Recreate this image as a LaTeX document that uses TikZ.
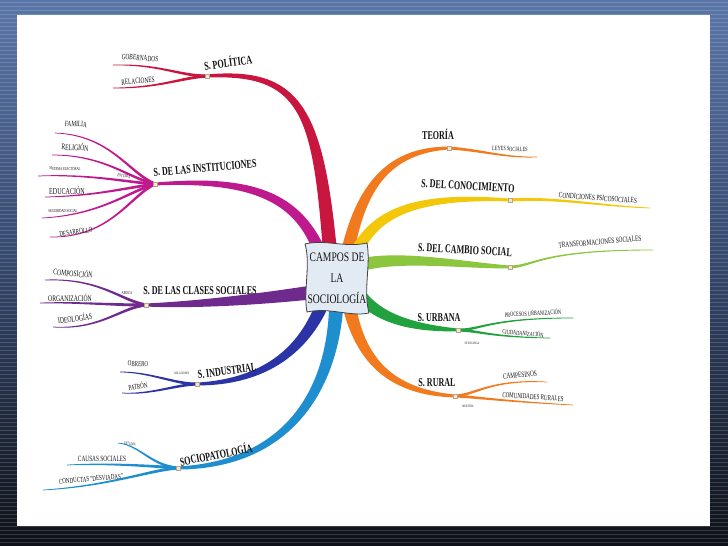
\documentclass[tikz,border=0pt]{standalone}
\usepackage{fontspec}
\setmainfont{Liberation Serif}
\newfontfamily\cond[FakeStretch=0.67]{Liberation Serif}
\newfontfamily\condc[FakeStretch=0.74]{Liberation Serif}
\usetikzlibrary{calc}
\definecolor{cRed}{HTML}{C8163F}
\definecolor{cMag}{HTML}{BE1A8E}
\definecolor{cPur}{HTML}{6E2A8C}
\definecolor{cBlu}{HTML}{2A34A6}
\definecolor{cSky}{HTML}{1F8ECF}
\definecolor{cOra}{HTML}{F27A1E}
\definecolor{cYel}{HTML}{F4C80A}
\definecolor{cLim}{HTML}{8CC63E}
\definecolor{cGrn}{HTML}{22A23F}
\definecolor{frameblue}{HTML}{5A76A8}
\definecolor{framemid}{HTML}{34466A}
\definecolor{frameblack}{HTML}{0E1117}
\definecolor{ink}{HTML}{141414}
\definecolor{paper}{HTML}{E2EAF3}
\definecolor{jfill}{HTML}{F3E7D2}
\definecolor{jdraw}{HTML}{B8A488}
% tapered branch: color, P0, P1, P2, P3, width
\newcommand\taper[6]{%
 \fill[#1] ($(#2)!#6*0.5pt!90:(#3)$)
   .. controls ($(#3)!#6*0.42pt!90:(#4)$) and ($(#4)!#6*0.28pt!90:(#5)$)
   .. ($(#5)!#6*0.11pt!-90:(#4)$)
   -- ($(#5)!#6*0.11pt!90:(#4)$)
   .. controls ($(#4)!#6*0.28pt!-90:(#5)$) and ($(#3)!#6*0.42pt!-90:(#4)$)
   .. ($(#2)!#6*0.5pt!-90:(#3)$) -- cycle;}
\tikzset{
 lab/.style={font=\cond\bfseries\fontsize{12}{12}\selectfont, text=ink, inner sep=0pt},
 sub/.style={font=\cond\fontsize{#1}{#1}\selectfont, text=ink, inner sep=0pt},
 jmark/.style={minimum size=4pt, inner sep=0pt, fill=jfill, draw=jdraw, line width=0.3pt},
}
\begin{document}
\begin{tikzpicture}[x=1pt,y=-1pt]
\useasboundingbox (0,0) rectangle (728,546);
% frame
\fill[top color=frameblue, bottom color=frameblack, middle color=framemid] (0,0) rectangle (728,546);
\foreach \yy in {2,6,...,546} \draw[white, opacity=0.16, line width=0.8pt] (0,\yy) -- (728,\yy);
\fill[white] (17,15) rectangle (710,526);

% junction coordinates
\coordinate (jPol) at (207,76);
\coordinate (jInst) at (155,184);
\coordinate (jCls) at (146,305);
\coordinate (jInd) at (197,384);
\coordinate (jSoc) at (178,468);
\coordinate (jTeo) at (449,148);
\coordinate (jCon) at (510,200);
\coordinate (jCam) at (510,267);
\coordinate (jUrb) at (458,330);
\coordinate (jRur) at (455,396);

% thick main branches
\taper{cRed}{330,252}{318,110}{300,70}{jPol}{14}
\taper{cMag}{322,258}{300,195}{250,178}{jInst}{13}
\taper{cPur}{315,292}{270,298}{200,305}{jCls}{14}
\taper{cBlu}{322,305}{305,345}{270,382}{jInd}{13}
\taper{cSky}{336,310}{330,400}{280,465}{jSoc}{14}
\taper{cOra}{348,250}{362,185}{390,150}{jTeo}{13}
\taper{cYel}{355,255}{375,210}{420,195}{jCon}{13}
\taper{cLim}{360,265}{400,255}{460,265}{jCam}{13}
\taper{cGrn}{362,298}{385,322}{420,328}{jUrb}{13}
\taper{cOra}{350,310}{362,360}{390,392}{jRur}{13}

% sub branches left
\taper{cRed}{jPol}{180,76}{160,64}{113,65}{3.2}
\taper{cRed}{jPol}{180,78}{160,88}{113,88}{3.2}
\taper{cMag}{jInst}{128,172}{110,135}{55,133}{3}
\taper{cMag}{jInst}{128,178}{105,155}{52,155}{3}
\taper{cMag}{jInst}{125,182}{90,174}{38,176}{3}
\taper{cMag}{jInst}{125,188}{95,196}{45,197}{3}
\taper{cMag}{jInst}{128,192}{100,215}{42,218}{3}
\taper{cMag}{jInst}{130,196}{110,238}{50,237}{3}
\taper{cPur}{jCls}{120,300}{100,278}{45,280}{3.2}
\taper{cPur}{jCls}{110,305}{80,302}{40,303}{3.2}
\taper{cPur}{jCls}{120,308}{100,330}{53,327}{3.2}
\taper{cBlu}{jInd}{175,384}{150,372}{120,372}{3}
\taper{cBlu}{jInd}{175,385}{150,395}{122,393}{3}
\taper{cSky}{jSoc}{150,465}{140,445}{118,443}{3}
\taper{cSky}{jSoc}{150,466}{110,463}{67,465}{3.2}
\taper{cSky}{jSoc}{150,470}{110,486}{43,490}{3.2}
% sub branches right
\taper{cOra}{jTeo}{480,150}{505,158}{537,157}{3}
\taper{cYel}{jCon}{555,197}{600,206}{650,208}{3.2}
\taper{cLim}{jCam}{535,266}{540,250}{653,250}{3.2}
\taper{cGrn}{jUrb}{480,330}{490,318}{573,318}{3}
\taper{cGrn}{jUrb}{480,331}{490,337}{550,338}{3}
\taper{cOra}{jRur}{475,395}{490,379}{547,382}{3}
\taper{cOra}{jRur}{475,397}{500,401}{573,405}{3}

% central card
\draw[fill=paper, draw=black!75, line width=0.8pt]
 (305,244) .. controls (325,239) and (345,248) .. (367,243)
 .. controls (371,265) and (363,290) .. (369,313)
 .. controls (350,317) and (330,307) .. (307,312)
 .. controls (303,290) and (311,265) .. (305,244) -- cycle;
\node[font=\condc\fontsize{13}{21}\selectfont, text=ink, align=center, inner sep=0pt] (center) at (337,278) {CAMPOS DE\\LA\\SOCIOLOGÍA};

% junction markers
\foreach \j in {jPol,jInst,jCls,jInd,jSoc,jTeo,jCon,jCam,jUrb,jRur}
  \node[jmark] (m\j) at (\j) {};

% main labels
\node[lab, rotate=8] (lPol) at (228,62) {S. POLÍTICA};
\node[lab, rotate=5] (lInst) at (205,168) {S. DE LAS INSTITUCIONES};
\node[lab] (lCls) at (200,291) {S. DE LAS CLASES SOCIALES};
\node[lab, rotate=8] (lInd) at (227,371) {S. INDUSTRIAL};
\node[lab, rotate=11] (lSoc) at (216,454) {SOCIOPATOLOGÍA};
\node[lab] (lTeo) at (438,134) {TEORÍA};
\node[lab, rotate=-3] (lCon) at (468,186) {S. DEL CONOCIMIENTO};
\node[lab, rotate=-3] (lCam) at (465,250) {S. DEL CAMBIO SOCIAL};
\node[lab] (lUrb) at (439,318) {S. URBANA};
\node[lab] (lRur) at (437,383) {S. RURAL};

% sub labels
\node[sub=8, rotate=-5] (s1) at (140,58) {GOBERNADOS};
\node[sub=8, rotate=5] (s2) at (138,81) {RELACIONES};
\node[sub=8, rotate=-3] (s3) at (76,124) {FAMILIA};
\node[sub=8.5, rotate=-3] (s4) at (75,147) {RELIGIÓN};
\node[sub=4.5, rotate=-2] (s5) at (65,169) {SISTEMA ELECTORAL};
\node[sub=4.5, rotate=-8] (s6) at (124,176) {ESTUDIA};
\node[sub=9] (s7) at (67,191) {EDUCACIÓN};
\node[sub=4.5] (s8) at (63,211) {SEGURIDAD SOCIAL};
\node[sub=7.5, rotate=8] (s9) at (76,232) {DESARROLLO};
\node[sub=8.5, rotate=-5] (s10) at (73,273) {COMPOSICIÓN};
\node[sub=8.5] (s11) at (70,298) {ORGANIZACIÓN};
\node[sub=8.5, rotate=8] (s12) at (75,318) {IDEOLOGÍAS};
\node[sub=4.5] (s13) at (127,293) {ABOCA};
\node[sub=7.5, rotate=-3] (s14) at (138,364) {OBRERO};
\node[sub=7.5, rotate=8] (s15) at (138,386) {PATRÓN};
\node[sub=3.5] (s16) at (182,373) {RELACIONES};
\node[sub=4, rotate=-10] (s17) at (130,444) {ESTUDIA};
\node[sub=8] (s18) at (102,459) {CAUSAS SOCIALES};
\node[sub=7.5, rotate=5] (s19) at (91,479) {CONDUCTAS "DESVIADAS"};
\node[sub=6.5, rotate=-3] (s20) at (510,149) {LEYES SOCIALES};
\node[sub=8, rotate=-4] (s21) at (598,198) {CONDICIONES PSICOSOCIALES};
\node[sub=8, rotate=5] (s22) at (600,242) {TRANSFORMACIONES SOCIALES};
\node[sub=6.5, rotate=3] (s23) at (533,313) {PROCESOS URBANIZACIÓN};
\node[sub=6.5, rotate=-5] (s24) at (523,333) {CIUDADANIZACIÓN};
\node[sub=3.5] (s25) at (472,343) {SE ENCARGA};
\node[sub=8, rotate=5] (s26) at (520,375) {CAMPESINOS};
\node[sub=7.5, rotate=-4] (s27) at (533,397) {COMUNIDADES RURALES};
\node[sub=3.5] (s28) at (468,406) {MUESTRA};
\end{tikzpicture}
\end{document}
